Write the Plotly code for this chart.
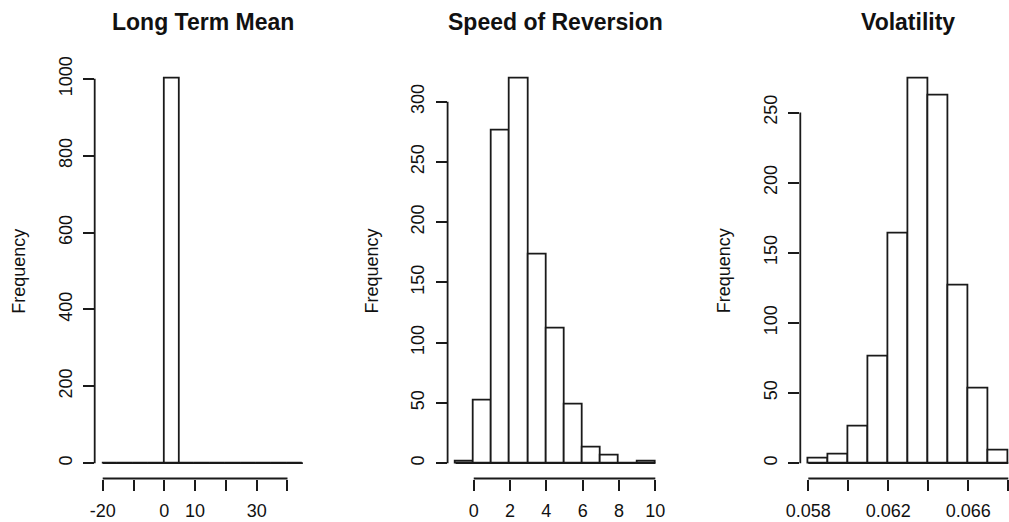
import plotly.graph_objects as go

W, H = 1009, 522

# ---------------- data ----------------
titles = ["Long Term Mean", "Speed of Reversion", "Volatility"]

ltm_breaks = [-20, -15, -10, -5, 0, 5, 10, 15, 20, 25, 30, 35, 40, 45]
ltm_counts = [0, 0, 0, 0, 1000, 0, 0, 0, 0, 0, 0, 0, 0]

sor_breaks = [-1, 0, 1, 2, 3, 4, 5, 6, 7, 8, 9, 10]
sor_counts = [1, 52, 276, 319, 173, 112, 49, 13, 6, 0, 1]

vol_breaks = [0.058, 0.059, 0.060, 0.061, 0.062, 0.063, 0.064, 0.065, 0.066, 0.067, 0.068]
vol_counts = [3, 6, 26, 76, 164, 274, 262, 127, 53, 9]

ltm_xticks = [-20, -10, 0, 10, 20, 30, 40]
ltm_xlabels = ["-20", "", "0", "10", "", "30", ""]
sor_xticks = [0, 2, 4, 6, 8, 10]
sor_xlabels = ["0", "2", "4", "6", "8", "10"]
vol_xticks = [0.058, 0.060, 0.062, 0.064, 0.066, 0.068]
vol_xlabels = ["0.058", "", "0.062", "", "0.066", ""]

ltm_yticks = [0, 200, 400, 600, 800, 1000]
sor_yticks = [0, 50, 100, 150, 200, 250, 300]
vol_yticks = [0, 50, 100, 150, 200, 250]

panels = [
    (ltm_breaks, ltm_counts, ltm_xticks, ltm_xlabels, ltm_yticks),
    (sor_breaks, sor_counts, sor_xticks, sor_xlabels, sor_yticks),
    (vol_breaks, vol_counts, vol_xticks, vol_xlabels, vol_yticks),
]

# ---------------- layout geometry (pixels) ----------------
regions = [(94.7, 310.9), (447.6, 663.3), (800.3, 1016.3)]
TOP, BOTTOM = 63.5, 478.5
FONT = "Liberation Sans, Arial, sans-serif"
INK = "#1a1a1a"
LW = 1.8

fig = go.Figure()
shapes = []
annotations = []
layout = {}

for i, ((brk, cnt, xt, xl, yt), title) in enumerate(zip(panels, titles)):
    n = i + 1
    xa = "x" if n == 1 else f"x{n}"
    ya = "y" if n == 1 else f"y{n}"
    span = brk[-1] - brk[0]
    r0, r1 = brk[0] - 0.04 * span, brk[-1] + 0.04 * span
    L, R = regions[i]
    if R > W:
        r1 = r0 + (W - L) / (R - L) * (r1 - r0)
        R = W
    ymax = max(cnt)
    centers = [(a + b) / 2 for a, b in zip(brk[:-1], brk[1:])]
    widths = [b - a for a, b in zip(brk[:-1], brk[1:])]

    # zero-height bins drawn as baseline (as R does)
    fig.add_trace(go.Scatter(x=[brk[0], brk[-1]], y=[0, 0], mode="lines",
                             line=dict(color=INK, width=LW), xaxis=xa, yaxis=ya,
                             showlegend=False, hoverinfo="skip"))
    fig.add_trace(go.Bar(x=centers, y=cnt, width=widths, xaxis=xa, yaxis=ya,
                         marker=dict(color="white", line=dict(color=INK, width=LW)),
                         showlegend=False))

    axfont = dict(family=FONT, size=18, color="#111")
    layout["xaxis" if n == 1 else f"xaxis{n}"] = dict(
        domain=[L / W, R / W], range=[r0, r1], anchor=ya, automargin=False,
        showgrid=False, zeroline=False, showline=False,
        ticks="outside", ticklen=11, tickwidth=LW, tickcolor=INK,
        tickvals=xt, ticktext=xl, tickfont=axfont, tickangle=0,
        ticklabelstandoff=5)
    layout["yaxis" if n == 1 else f"yaxis{n}"] = dict(
        domain=[1 - BOTTOM / H, 1 - TOP / H], range=[-0.04 * ymax, 1.04 * ymax], anchor=xa,
        automargin=False,
        showgrid=False, zeroline=False, showline=False,
        ticks="outside", ticklen=11, tickwidth=LW, tickcolor=INK,
        tickvals=yt, ticktext=[str(v) for v in yt], tickfont=axfont, tickangle=-90,
        ticklabelstandoff=4)

    # R-style axis lines spanning first..last tick
    shapes.append(dict(type="line", xref=xa, yref=f"{ya} domain", x0=xt[0], x1=xt[-1],
                       y0=0, y1=0, line=dict(color=INK, width=LW)))
    shapes.append(dict(type="line", xref=f"{xa} domain", yref=ya, x0=0, x1=0,
                       y0=yt[0], y1=yt[-1], line=dict(color=INK, width=LW)))

    Lfull, Rfull = regions[i]
    annotations.append(dict(text=f"<b>{title}</b>", xref="paper", yref="paper",
                            x=(Lfull + Rfull) / 2 / W, y=1 - 22 / H, showarrow=False,
                            xanchor="center", yanchor="middle",
                            font=dict(family=FONT, size=23, color="#111")))
    annotations.append(dict(text="Frequency", xref="paper", yref="paper",
                            x=(Lfull - 76) / W, y=1 - (TOP + BOTTOM) / 2 / H, showarrow=False,
                            textangle=-90, xanchor="center", yanchor="middle",
                            font=dict(family=FONT, size=18, color="#111")))

fig.update_layout(width=W, height=H, margin=dict(l=0, r=0, t=0, b=0, autoexpand=False),
                  plot_bgcolor="white", paper_bgcolor="white",
                  shapes=shapes, annotations=annotations, bargap=0, **layout)

fig.write_html("out.html")
